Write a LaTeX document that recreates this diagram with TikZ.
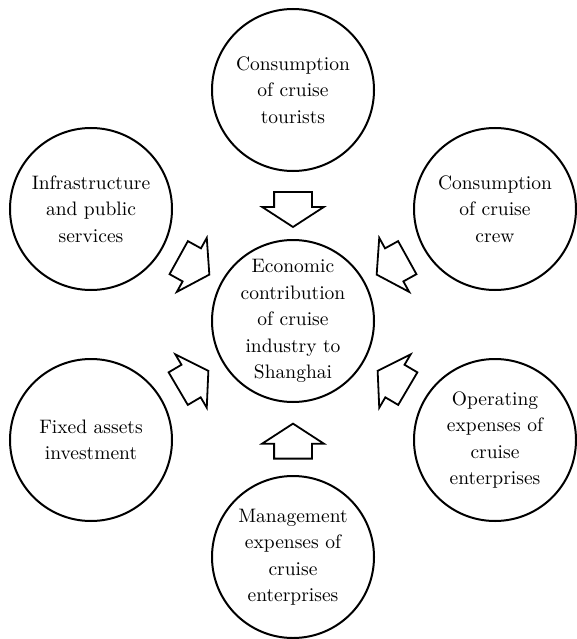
\documentclass[tikz,border=0pt]{standalone}
\usepackage{fontspec}
\setmainfont{lmroman10-regular.otf}
\usetikzlibrary{shapes.arrows}

\tikzset{
  topic/.style={draw, circle, line width=2pt, minimum size=162pt, inner sep=0pt,
    align=center, font=\fontsize{19.5}{26.5}\selectfont},
  flow/.style={single arrow, draw, fill=white, line width=1.8pt, sloped,
    allow upside down, anchor=tail, minimum height=35pt, inner xsep=0pt,
    inner ysep=18pt, single arrow head extend=12pt, single arrow tip angle=114}
}

\begin{document}
\begin{tikzpicture}[x=1pt,y=-1pt]
\useasboundingbox (0,0) rectangle (576,639);
% centre and the six sources around it
\node[topic] (econ)  at (293,321) {Economic\\contribution\\of cruise\\industry to\\Shanghai};
\node[topic] (tour)  at (293,90)  {Consumption\\of cruise\\tourists};
\node[topic] (crew)  at (495,209) {Consumption\\of cruise\\crew};
\node[topic] (oper)  at (495,440) {Operating\\expenses of\\cruise\\enterprises};
\node[topic] (mgmt)  at (293,557) {Management\\expenses of\\cruise\\enterprises};
\node[topic] (fixed) at (91,440)  {Fixed assets\\investment};
\node[topic] (infra) at (91,209)  {Infrastructure\\and public\\services};
% block arrows into the centre
\foreach \src/\p in {tour/0.285, crew/0.26, oper/0.26, mgmt/0.215, fixed/0.26, infra/0.26}
  \path (\src) -- node[flow, pos=\p] {} (econ);
\end{tikzpicture}
\end{document}
